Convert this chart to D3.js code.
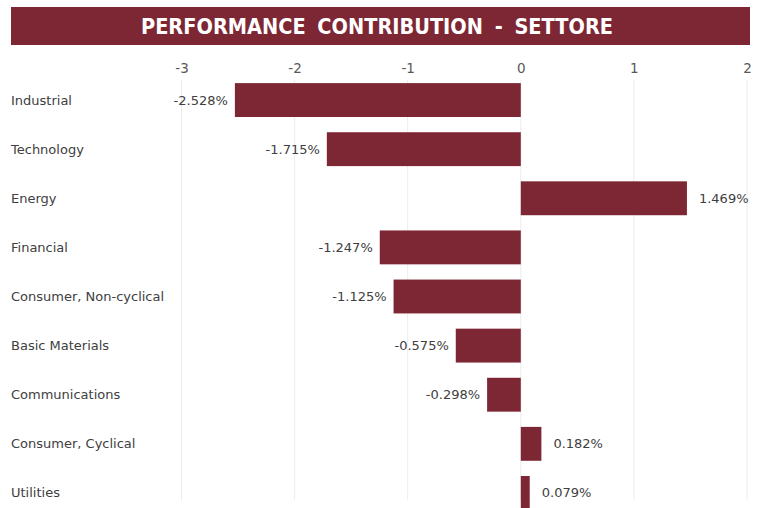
<!DOCTYPE html>
<html>
<head>
<meta charset="utf-8">
<script src="https://cdn.jsdelivr.net/npm/d3@7"></script>
<style>
  html, body { margin: 0; padding: 0; background: #fff; overflow: hidden; }
</style>
</head>
<body>
<div id="chart"></div>
<script>
const sectors = ['Industrial', 'Technology', 'Energy', 'Financial', 'Consumer, Non-cyclical',
    'Basic Materials', 'Communications', 'Consumer, Cyclical', 'Utilities'];
const contributions = [-2.528, -1.715, 1.469, -1.247, -1.125, -0.575, -0.298, 0.182, 0.079];
const xTicks = [-3, -2, -1, 0, 1, 2];
const chartTitle = 'PERFORMANCE CONTRIBUTION - SETTORE';

const width = 757;
const height = 508;
const barColor = '#7e2734';
const fontFamily = 'Tahoma, "DejaVu Sans", sans-serif';

// plain hyphen for negatives, like the original
const locale = d3.formatLocale({ decimal: '.', thousands: ',', grouping: [3], currency: ['', ''], minus: '-' });
const fmtTick = locale.format('d');
const fmtValue = locale.format('.3f');

const svg = d3.select('#chart').append('svg')
    .attr('width', width)
    .attr('height', height)
    .style('font-family', fontFamily);

// title banner
svg.append('rect')
    .attr('x', 11).attr('y', 7)
    .attr('width', 739).attr('height', 38)
    .attr('fill', barColor);

svg.append('text')
    .attr('x', 377).attr('y', 26)
    .attr('text-anchor', 'middle')
    .attr('dominant-baseline', 'central')
    .attr('fill', '#fff')
    .style('font-family', '"DejaVu Sans Condensed", "DejaVu Sans", sans-serif')
    .style('font-weight', 'bold')
    .style('font-size', '21.5px')
    .style('word-spacing', '5px')
    .text(chartTitle);

const x = d3.scaleLinear().domain([-3, 2]).range([181.5, 747]);
const y = d3.scaleBand().domain(sectors).range([75.5, 517.5]).paddingInner(0.31).paddingOuter(0.155);

// gridlines
svg.append('g')
    .selectAll('line')
    .data(xTicks)
    .join('line')
    .attr('x1', d => x(d)).attr('x2', d => x(d))
    .attr('y1', 80).attr('y2', 500)
    .attr('stroke', '#ececec')
    .attr('stroke-width', 1);

// top axis labels
const axis = svg.append('g')
    .attr('transform', 'translate(0,68)')
    .call(d3.axisTop(x).tickValues(xTicks).tickSize(0).tickPadding(0).tickFormat(fmtTick));
axis.select('.domain').remove();
axis.selectAll('text')
    .attr('dy', '0.35em')
    .style('font-family', fontFamily)
    .style('font-size', '13.5px')
    .attr('fill', '#595959');

// bars
svg.append('g')
    .selectAll('rect')
    .data(contributions)
    .join('rect')
    .attr('x', d => x(Math.min(0, d)))
    .attr('y', (d, i) => y(sectors[i]))
    .attr('width', d => Math.abs(x(d) - x(0)))
    .attr('height', y.bandwidth())
    .attr('fill', barColor);

// value labels
svg.append('g')
    .selectAll('text')
    .data(contributions)
    .join('text')
    .attr('x', d => d < 0 ? x(d) - 7 : x(d) + 12)
    .attr('y', (d, i) => y(sectors[i]) + y.bandwidth() / 2)
    .attr('dy', '0.35em')
    .attr('text-anchor', d => d < 0 ? 'end' : 'start')
    .attr('fill', '#404040')
    .style('font-size', '13px')
    .text(d => fmtValue(d) + '%');

// category labels
svg.append('g')
    .selectAll('text')
    .data(sectors)
    .join('text')
    .attr('x', 11)
    .attr('y', d => y(d) + y.bandwidth() / 2)
    .attr('dy', '0.35em')
    .attr('fill', '#404040')
    .style('font-size', '13px')
    .text(d => d);
</script>
</body>
</html>
